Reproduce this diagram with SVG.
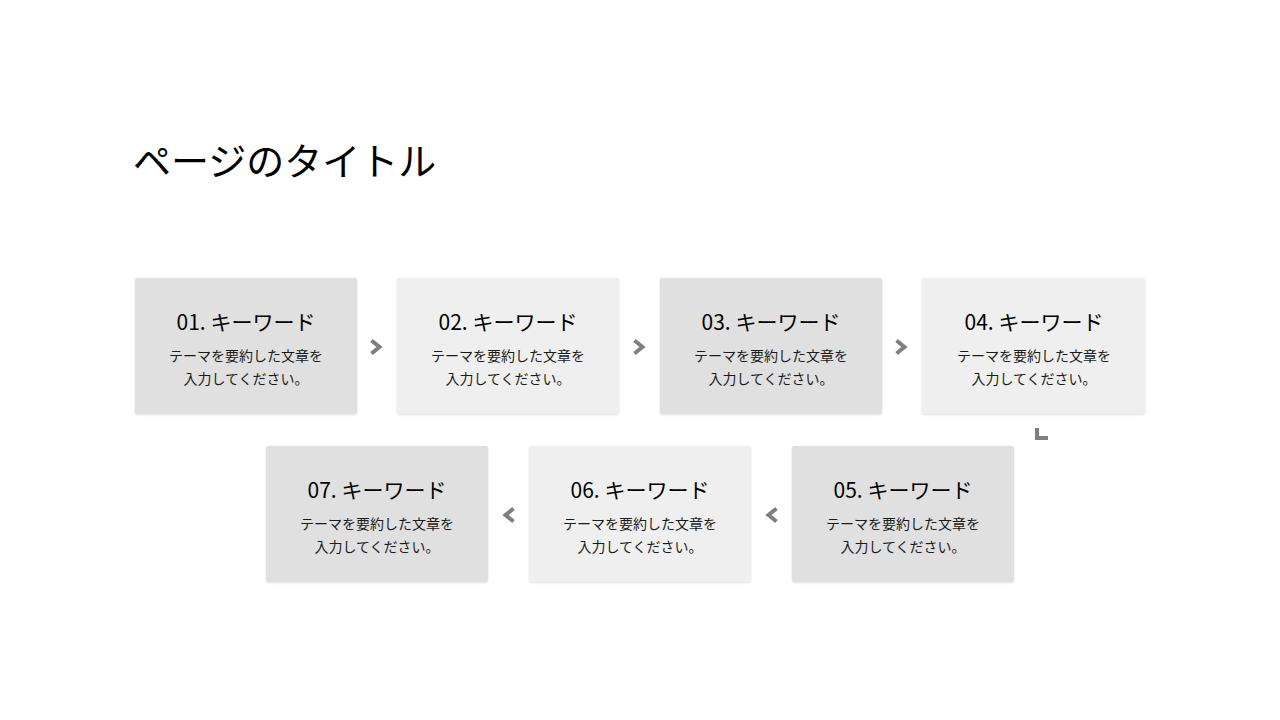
<svg xmlns="http://www.w3.org/2000/svg" width="1280" height="720" viewBox="0 0 1280 720">
<defs>
<filter id="sh" x="-5%" y="-5%" width="110%" height="115%">
<feDropShadow dx="0" dy="1" stdDeviation="1" flood-color="#000" flood-opacity="0.12"/>
</filter>
</defs>
<style>
text{font-family:"Noto Sans CJK JP","Noto Sans",sans-serif;fill:#000;text-anchor:middle}
.title{font-size:38px;text-anchor:start}
.kw{font-size:21px}
.body{font-size:14px;fill:#1a1a1a}
.dark{fill:#e0e0e0}
.light{fill:#efefef}
.box{filter:url(#sh)}
.chev{fill:none;stroke:#7f7f7f;stroke-width:4;stroke-linecap:butt;stroke-linejoin:miter}
</style>
<rect width="1280" height="720" fill="#fff"/>
<text class="title" x="133" y="175">ページのタイトル</text>
<g id="node1"><rect class="box dark" x="135" y="278" width="222" height="136" rx="2"/><text class="kw" x="246" y="330">01. キーワード</text><text class="body" x="246" y="361">テーマを要約した文章を</text><text class="body" x="246" y="384">入力してください。</text></g>
<g id="node2"><rect class="box light" x="397" y="278" width="222" height="136" rx="2"/><text class="kw" x="508" y="330">02. キーワード</text><text class="body" x="508" y="361">テーマを要約した文章を</text><text class="body" x="508" y="384">入力してください。</text></g>
<g id="node3"><rect class="box dark" x="660" y="278" width="222" height="136" rx="2"/><text class="kw" x="771" y="330">03. キーワード</text><text class="body" x="771" y="361">テーマを要約した文章を</text><text class="body" x="771" y="384">入力してください。</text></g>
<g id="node4"><rect class="box light" x="922" y="278" width="223" height="136" rx="2"/><text class="kw" x="1034" y="330">04. キーワード</text><text class="body" x="1034" y="361">テーマを要約した文章を</text><text class="body" x="1034" y="384">入力してください。</text></g>
<g id="node5"><rect class="box dark" x="792" y="446" width="222" height="136" rx="2"/><text class="kw" x="903" y="498">05. キーワード</text><text class="body" x="903" y="529">テーマを要約した文章を</text><text class="body" x="903" y="552">入力してください。</text></g>
<g id="node6"><rect class="box light" x="529" y="446" width="222" height="136" rx="2"/><text class="kw" x="640" y="498">06. キーワード</text><text class="body" x="640" y="529">テーマを要約した文章を</text><text class="body" x="640" y="552">入力してください。</text></g>
<g id="node7"><rect class="box dark" x="266" y="446" width="222" height="136" rx="2"/><text class="kw" x="377" y="498">07. キーワード</text><text class="body" x="377" y="529">テーマを要約した文章を</text><text class="body" x="377" y="552">入力してください。</text></g>
<g id="connectors">
<polyline class="chev" points="371.5,340.5 379.5,347 371.5,353.5"/>
<polyline class="chev" points="634.5,340.5 642.5,347 634.5,353.5"/>
<polyline class="chev" points="896.5,340.5 904.5,347 896.5,353.5"/>
<polyline class="chev" points="1037,428 1037,438 1048,438"/>
<polyline class="chev" points="776.5,508.5 768.5,515 776.5,521.5"/>
<polyline class="chev" points="513.5,508.5 505.5,515 513.5,521.5"/>
</g>
</svg>
